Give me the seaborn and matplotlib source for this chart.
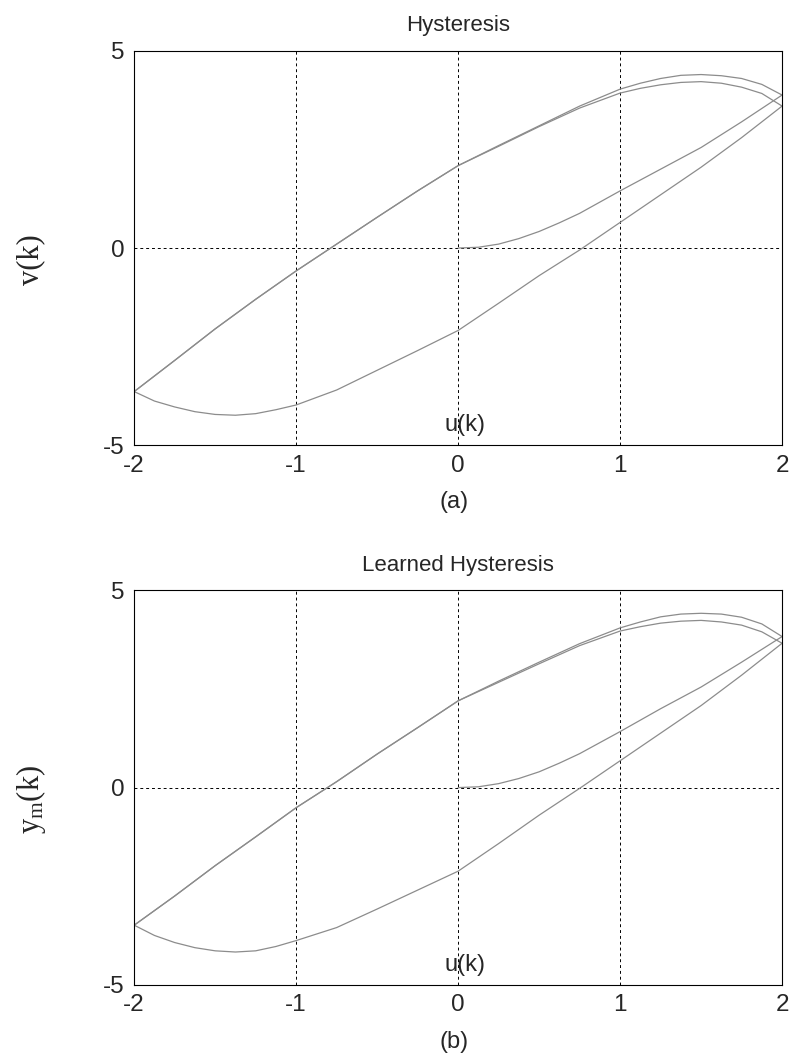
import numpy as np
import pandas as pd
import matplotlib
matplotlib.use("Agg")
import matplotlib.pyplot as plt
import seaborn as sns

# ---- data: hysteresis branches (input u, output v) ----
# initial magnetisation branch, u rising 0 -> 2
u_init = [0.0, 0.125, 0.25, 0.375, 0.5, 0.625, 0.75, 1.0, 1.25, 1.5, 1.75, 2.0]
v_init = [0.0, 0.02, 0.1, 0.24, 0.42, 0.64, 0.88, 1.45, 2.0, 2.55, 3.2, 3.88]

# descending branch, u falling 2 -> -2 (two passes that separate near the top)
u_down = [2.0, 1.875, 1.75, 1.625, 1.5, 1.375, 1.25, 1.125, 1.0, 0.75, 0.5,
          0.25, 0.0, -0.25, -0.5, -0.75, -1.0, -1.25, -1.5, -1.75, -2.0]
v_down_1 = [3.88, 4.15, 4.3, 4.37, 4.4, 4.38, 4.3, 4.18, 4.03, 3.6, 3.1,
            2.6, 2.09, 1.45, 0.78, 0.1, -0.58, -1.3, -2.05, -2.85, -3.64]
v_down_2 = [3.6, 3.92, 4.08, 4.18, 4.22, 4.2, 4.14, 4.05, 3.93, 3.55, 3.08,
            2.58, 2.09, 1.45, 0.78, 0.1, -0.58, -1.3, -2.05, -2.85, -3.64]

# ascending branch, u rising -2 -> 2
u_up = [-2.0, -1.875, -1.75, -1.625, -1.5, -1.375, -1.25, -1.125, -1.0,
        -0.75, -0.5, -0.25, 0.0, 0.25, 0.5, 0.75, 1.0, 1.25, 1.5, 1.75, 2.0]
v_up = [-3.64, -3.88, -4.03, -4.15, -4.22, -4.24, -4.2, -4.1, -3.98,
        -3.6, -3.1, -2.6, -2.09, -1.4, -0.7, -0.05, 0.65, 1.35, 2.05, 2.8, 3.6]

# learned model output y_m for the same input sequence
ym_init = [0.0, 0.02, 0.1, 0.23, 0.4, 0.62, 0.86, 1.42, 2.0, 2.55, 3.18, 3.83]
ym_down_1 = [3.83, 4.15, 4.32, 4.4, 4.42, 4.4, 4.33, 4.2, 4.05, 3.65, 3.18,
             2.7, 2.2, 1.52, 0.85, 0.15, -0.51, -1.25, -1.98, -2.75, -3.49]
ym_down_2 = [3.66, 3.95, 4.12, 4.2, 4.24, 4.22, 4.17, 4.08, 3.97, 3.6, 3.14,
             2.67, 2.2, 1.52, 0.85, 0.15, -0.51, -1.25, -1.98, -2.75, -3.49]
ym_up = [-3.49, -3.75, -3.93, -4.06, -4.14, -4.17, -4.14, -4.03, -3.88,
         -3.55, -3.08, -2.6, -2.12, -1.42, -0.7, -0.02, 0.68, 1.38, 2.08,
         2.85, 3.66]

sns.set_style("white")
plt.rcParams["font.family"] = ["Liberation Sans", "DejaVu Sans"]
plt.rcParams["axes.unicode_minus"] = False
plt.rcParams["mathtext.fontset"] = "custom"
plt.rcParams["mathtext.rm"] = "Liberation Serif"
plt.rcParams["mathtext.it"] = "Liberation Serif:italic"

LINE_COLOR = "#8c8c8c"


def branch_frame(u, v, name):
    return pd.DataFrame({"u": u, "v": v, "branch": name})


def draw_panel(ax, init, down1, down2, up, title, ylabel, tag):
    frames = [
        branch_frame(u_init, init, "init"),
        branch_frame(u_down, down1, "down1"),
        branch_frame(u_up, up, "up"),
        branch_frame(u_down, down2, "down2"),
    ]
    for df in frames:
        sns.lineplot(data=df, x="u", y="v", sort=False, estimator=None,
                     ax=ax, color=LINE_COLOR, lw=0.9)
    ax.set_xlim(-2, 2)
    ax.set_ylim(-5, 5)
    ax.set_xticks([-2, -1, 0, 1, 2])
    ax.set_yticks([-5, 0, 5])
    ax.grid(True, color="black", linestyle=(0, (3, 3)), linewidth=0.7)
    ax.tick_params(direction="in", length=4, labelsize=17.5, pad=7,
                   top=False, right=False)
    for s in ax.spines.values():
        s.set_color("black")
        s.set_linewidth(0.8)
    ax.set_title(title, fontsize=16, pad=14)
    ax.set_xlabel("u(k)", fontsize=17)
    ax.xaxis.set_label_coords(0.51, 0.05)
    ax.xaxis.label.set_va("center")
    ax.set_ylabel(ylabel, fontsize=22, family="Liberation Serif")
    ax.yaxis.label.set_va("center")
    ax.yaxis.set_label_coords(-0.16, 0.47)
    ax.text(0.494, -0.145, tag, transform=ax.transAxes, ha="center",
            va="center", fontsize=17)


fig = plt.figure(figsize=(7.94, 10.6), dpi=100)
ax1 = fig.add_axes([0.169, 0.580, 0.816, 0.372])
ax2 = fig.add_axes([0.169, 0.071, 0.816, 0.372])

draw_panel(ax1, v_init, v_down_1, v_down_2, v_up,
           "Hysteresis", "v(k)", "(a)")
draw_panel(ax2, ym_init, ym_down_1, ym_down_2, ym_up,
           "Learned Hysteresis", r"$\mathrm{y_m(k)}$", "(b)")

fig.savefig("out.png", dpi=100)
